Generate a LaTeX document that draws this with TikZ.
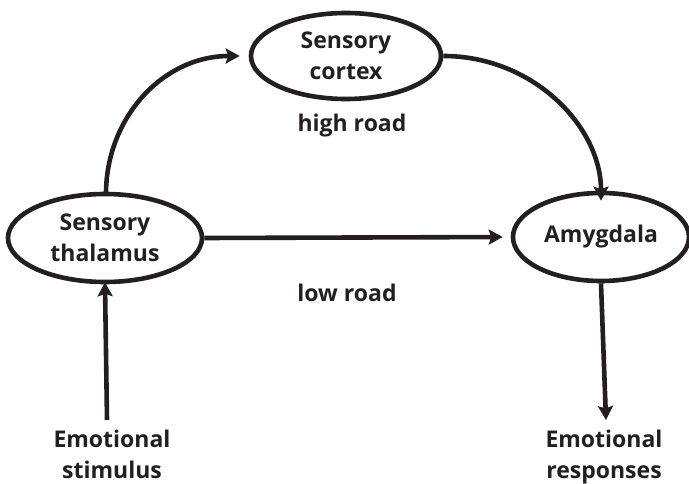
\documentclass[tikz,border=0pt]{standalone}
\usepackage{fontspec}
\setmainfont{Open Sans}
\usetikzlibrary{shapes.geometric,arrows.meta}
\definecolor{ink}{HTML}{231F20}
\begin{document}
\begin{tikzpicture}[x=1pt,y=-1pt,
  every node/.style={font=\fontsize{23}{31}\selectfont\bfseries, text=ink},
  region/.style={ellipse, draw=ink, line width=4.6pt, inner sep=0pt, align=center},
  label/.style={align=center, inner sep=0pt},
  link/.style={draw=ink, line width=4.6pt,
    -{Stealth[length=14pt,width=15pt,inset=2.5pt]}}]
  \useasboundingbox (0,0) rectangle (689,484);
  % brain regions
  \node[region, minimum width=190pt, minimum height=86pt] (cortex) at (346,56) {Sensory\\cortex};
  \node[region, minimum width=194pt, minimum height=88pt] (thalamus) at (105,238) {Sensory\\thalamus};
  \node[region, minimum width=176pt, minimum height=88pt] (amygdala) at (601,237) {Amygdala};
  % input and output texts
  \node[label, anchor=north] (stimulus) at (112,430) {Emotional\\stimulus};
  \node[label, anchor=north] (responses) at (604,430) {Emotional\\responses};
  \node[label] (high) at (352,126) {high road};
  \node[label] (low) at (347,293) {low road};
  % pathways
  \coordinate (thtop) at (106,194);
  \coordinate (stimtop) at (107,420);
  \coordinate (resbot) at (606,420);
  \draw[link] (thtop) .. controls +(0,-76) and +(-77,0) .. ([xshift=-9pt]cortex.west);
  \draw[link] (cortex.east) .. controls +(90,0) and +(0,-74) .. ([yshift=-10pt]amygdala.north);
  \draw[link, shorten >=8pt] (thalamus.east) -- (amygdala.west);
  \draw[link, shorten >=-2pt] (stimtop) -- (thalamus.south);
  \draw[link] (amygdala.south) -- (resbot);
\end{tikzpicture}
\end{document}
